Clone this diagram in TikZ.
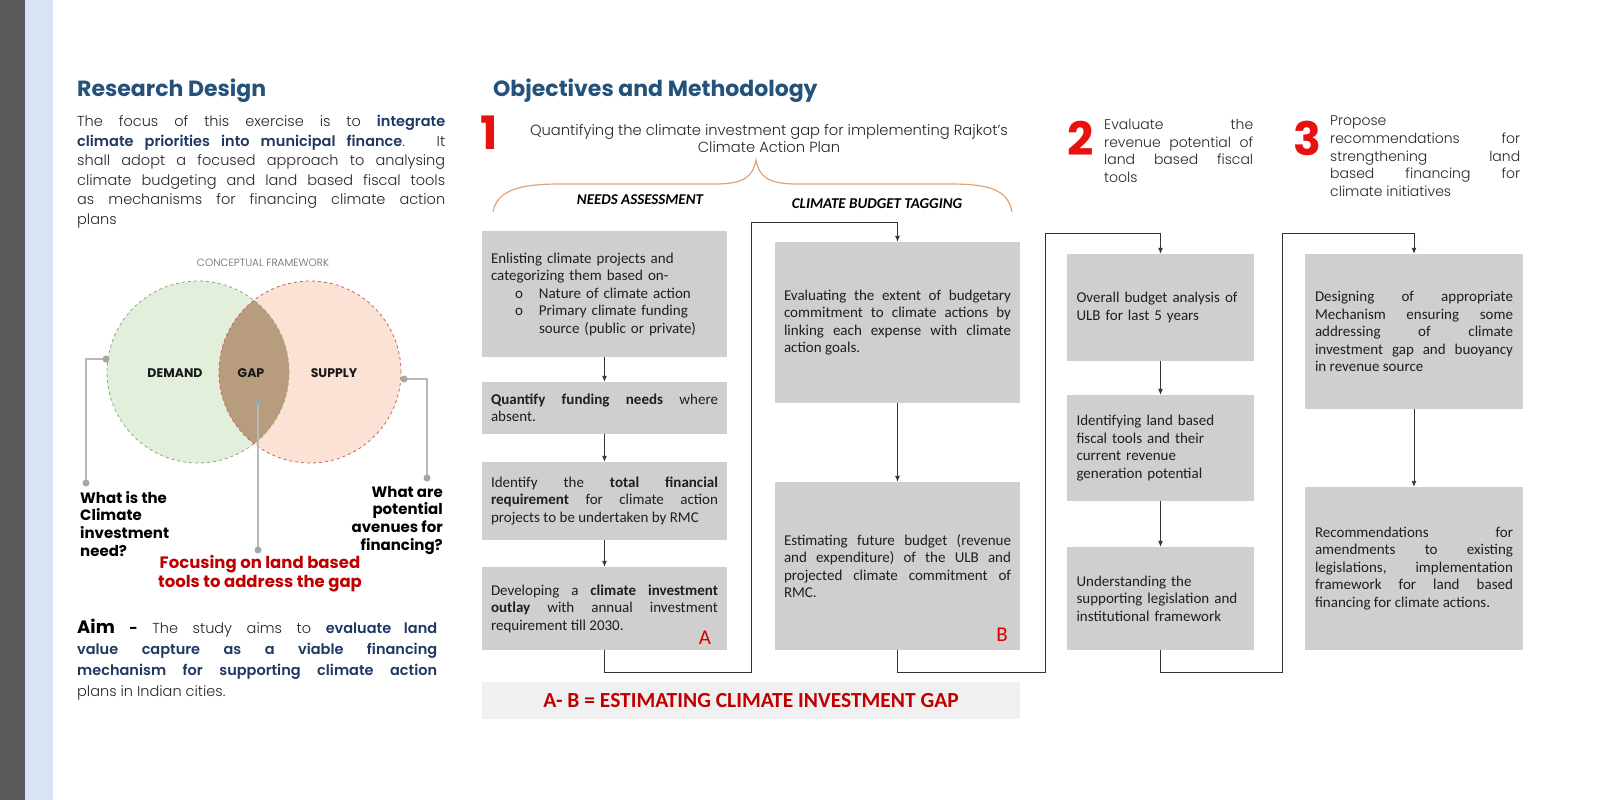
\documentclass[tikz,border=0pt]{standalone}
\usepackage{fontspec}
\IfFontExistsTF{Poppins Light}{\setmainfont{Poppins Light}[BoldFont={Poppins Bold}]}{\setmainfont{Poppins}}
\IfFontExistsTF{Poppins SemiBold}{\newfontfamily\keyfont{Poppins SemiBold}}{\newcommand{\keyfont}{\bfseries}}
\newfontfamily\boxfont{Carlito}
\usetikzlibrary{arrows.meta}
\definecolor{headblue}{HTML}{24527A}
\definecolor{navy}{HTML}{1F3864}
\definecolor{boxgray}{HTML}{D0CECE}
\definecolor{numred}{HTML}{E8110F}
\definecolor{darkred}{HTML}{C00000}
\definecolor{bracecol}{HTML}{E5A272}
\definecolor{demandfill}{HTML}{E2EFDA}
\definecolor{demandline}{HTML}{86AE72}
\definecolor{supplyfill}{HTML}{FBE2D5}
\definecolor{supplyline}{HTML}{C8625A}
\definecolor{gapfill}{HTML}{B79C7E}
\definecolor{sidebar}{HTML}{595959}
\definecolor{sideblue}{HTML}{DAE3F3}
\newcommand{\keyword}[1]{{\keyfont\color{navy}#1}}

\begin{document}
\begin{tikzpicture}[x=1pt,y=-1pt,
    stepbox/.style={fill=boxgray,inner xsep=9pt,inner ysep=0pt,align=justify,text=black!88,font=\boxfont\fontsize{15}{17.5}\selectfont},
    flow/.style={draw=black!80,line width=0.9pt,-{Latex[length=6pt,width=5pt]}},
    pinline/.style={draw=black!28,line width=1.1pt},
    pindot/.style={fill=black!35},
    bodytext/.style={inner sep=0pt,align=justify,text=black!85,font=\fontsize{14.5}{19.5}\selectfont},
    smalltext/.style={inner sep=0pt,align=justify,text=black!85,font=\fontsize{14}{17.6}\selectfont},
    question/.style={inner sep=0pt,text=black,font=\bfseries\fontsize{15}{17.6}\selectfont},
    bignum/.style={inner sep=0pt,anchor=base west,text=numred,font=\bfseries\fontsize{46}{46}\selectfont},
    heading/.style={inner sep=0pt,anchor=base west,text=headblue,font=\bfseries\fontsize{22}{26}\selectfont},
    phase/.style={inner sep=0pt,anchor=base,text=black,font=\boxfont\bfseries\itshape\fontsize{15}{17}\selectfont},
    venntext/.style={inner sep=0pt,anchor=base,text=black!90,font=\bfseries\fontsize{12.5}{14}\selectfont},
    partlabel/.style={inner sep=0pt,text=red!85!black,font=\boxfont\fontsize{21}{21}\selectfont}]
\useasboundingbox (0,0) rectangle (1600,800);
\fill[white] (0,0) rectangle (1600,800);
\fill[sidebar] (0,0) rectangle (25,800);
\fill[sideblue] (25,0) rectangle (53,800);

\node[heading] (designtitle) at (77,96) {Research Design};
\node[bodytext,anchor=north west,text width=368pt] (designtext) at (77,115) {The focus of this exercise is to \keyword{integrate}\linebreak \keyword{climate priorities into municipal finance}. It\linebreak shall adopt a focused approach to analysing\linebreak climate budgeting and land based fiscal tools\linebreak as mechanisms for financing climate action\linebreak plans};

\node[inner sep=0pt,anchor=base,text=black!60,font=\fontsize{10.5}{12}\selectfont] (frametitle) at (263,266) {CONCEPTUAL FRAMEWORK};
\fill[demandfill] (198,372) circle[radius=91pt];
\fill[supplyfill] (310,372) circle[radius=91pt];
\begin{scope}
  \clip (198,372) circle[radius=91pt];
  \fill[gapfill] (310,372) circle[radius=91pt];
\end{scope}
\draw[demandline,dashed,line width=0.8pt] (198,372) circle[radius=91pt];
\draw[supplyline,dashed,line width=0.8pt] (310,372) circle[radius=91pt];
\node[venntext] (demand) at (175,377) {DEMAND};
\node[venntext] (gap) at (251,377) {GAP};
\node[venntext] (supply) at (334,377) {SUPPLY};

\coordinate (demandpin) at (106,359);
\coordinate (demandend) at (86,483);
\coordinate (supplypin) at (404,379);
\coordinate (supplyend) at (427,478);
\coordinate (gappin) at (258,402);
\coordinate (gapend) at (258,550);
\draw[pinline] (demandpin) -| (demandend);
\draw[pinline] (supplypin) -| (supplyend);
\draw[pinline] (gappin) -- (gapend);
\fill[pindot] (demandpin) circle[radius=3.5pt] (demandend) circle[radius=3.5pt];
\fill[pindot] (supplypin) circle[radius=3.5pt] (supplyend) circle[radius=3.5pt];
\fill[pindot] (gappin) circle[radius=3.5pt] (gapend) circle[radius=3.5pt];

\node[question,anchor=north west,align=left] (needq) at (80,491) {What is the\\Climate\\investment\\need?};
\node[question,anchor=north east,align=right] (avenueq) at (443,486) {What are\\potential\\avenues for\\financing?};
\node[inner sep=0pt,anchor=north,align=center,text=darkred,font=\bfseries\fontsize{16.5}{19.3}\selectfont] (focusnote) at (260,555) {Focusing on land based\\tools to address the gap};

\node[bodytext,anchor=north west,text width=360pt,font=\fontsize{14.5}{21}\selectfont] (aimtext) at (77,619) {{\color{black}\bfseries\fontsize{18}{21}\selectfont Aim}\hspace{1em}{\color{black}\bfseries -} The study aims to \keyword{evaluate land}\linebreak \keyword{value capture as a viable financing}\linebreak \keyword{mechanism for supporting climate action}\linebreak plans in Indian cities.};

\node[heading] (objtitle) at (493,96) {Objectives and Methodology};
\node[bignum] (numone) at (480,149) {1};
\node[inner sep=0pt,anchor=north,align=center,text=black!85,font=\fontsize{14.7}{17.5}\selectfont] (objone) at (769,124) {Quantifying the climate investment gap for implementing Rajkot's\\Climate Action Plan};
\node[bignum] (numtwo) at (1067,155) {2};
\node[smalltext,anchor=north west,text width=149pt] (objtwo) at (1104,119) {Evaluate the\linebreak revenue potential of\linebreak land based fiscal\linebreak tools};
\node[bignum] (numthree) at (1293,155) {3};
\node[smalltext,anchor=north west,text width=190pt] (objthree) at (1330,116) {Propose\\recommendations for\linebreak strengthening land\linebreak based financing for\linebreak climate initiatives};

\draw[bracecol,line width=1.2pt] (493,212) .. controls (497,190) and (520,184) .. (560,184) -- (715,184) .. controls (745,184) and (753,176) .. (756,160) .. controls (759,176) and (767,184) .. (797,184) -- (950,184) .. controls (990,184) and (1008,190) .. (1012,212);
\node[phase] (needs) at (640,204) {NEEDS ASSESSMENT};
\node[phase] (tagging) at (877,208) {CLIMATE BUDGET TAGGING};

\node[stepbox,align=left,text width=227pt,minimum height=126pt] (a1) at (604.5,294) {Enlisting climate projects and\\categorizing them based on-\\\hspace*{24pt}\makebox[24pt][l]{o}Nature of climate action\\\hspace*{24pt}\makebox[24pt][l]{o}Primary climate funding\\\hspace*{48pt}source (public or private)};
\node[stepbox,text width=227pt,minimum height=52pt] (a2) at (604.5,408) {\textbf{Quantify funding needs} where\linebreak absent.};
\node[stepbox,text width=227pt,minimum height=78pt] (a3) at (604.5,501) {Identify the \textbf{total financial}\linebreak \textbf{requirement} for climate action\linebreak projects to be undertaken by RMC};
\node[stepbox,text width=227pt,minimum height=83pt] (a4) at (604.5,608.5) {Developing a \textbf{climate investment}\linebreak \textbf{outlay} with annual investment\linebreak requirement till 2030.};
\node[partlabel] (labela) at (705,638) {A};

\node[stepbox,text width=227pt,minimum height=161pt] (b1) at (897.5,322.5) {Evaluating the extent of budgetary\linebreak commitment to climate actions by\linebreak linking each expense with climate\linebreak action goals.};
\node[stepbox,text width=227pt,minimum height=168pt] (b2) at (897.5,566) {Estimating future budget (revenue\linebreak and expenditure) of the ULB and\linebreak projected climate commitment of\linebreak RMC.};
\node[partlabel] (labelb) at (1002,635) {B};

\node[stepbox,align=left,inner xsep=9.5pt,text width=168pt,minimum height=107pt] (c1) at (1160.5,307.5) {Overall budget analysis of\\ULB for last 5 years};
\node[stepbox,align=left,inner xsep=9.5pt,text width=168pt,minimum height=106pt] (c2) at (1160.5,448) {Identifying land based\\fiscal tools and their\\current revenue\\generation potential};
\node[stepbox,align=left,inner xsep=9.5pt,text width=168pt,minimum height=103pt] (c3) at (1160.5,598.5) {Understanding the\\supporting legislation and\\institutional framework};

\node[stepbox,inner xsep=10pt,text width=198pt,minimum height=155pt] (d1) at (1414,331.5) {Designing of appropriate\linebreak Mechanism ensuring some\linebreak addressing of climate\linebreak investment gap and buoyancy\linebreak in revenue source};
\node[stepbox,inner xsep=10pt,text width=198pt,minimum height=163pt] (d2) at (1414,568.5) {Recommendations for\linebreak amendments to existing\linebreak legislations, implementation\linebreak framework for land based\linebreak financing for climate actions.};

\node[fill=black!6,minimum width=538pt,minimum height=37pt,inner sep=0pt,text=darkred,font=\boxfont\bfseries\fontsize{21.5}{21.5}\selectfont] (gapbanner) at (751,700.5) {A- B = ESTIMATING CLIMATE INVESTMENT GAP};

\draw[flow] (a1) -- (a2);
\draw[flow] (a2) -- (a3);
\draw[flow] (a3) -- (a4);
\draw[flow] (b1) -- (b2);
\draw[flow] (c1) -- (c2);
\draw[flow] (c2) -- (c3);
\draw[flow] (d1) -- (d2);

\coordinate (ablow) at (751,672);
\coordinate (abhigh) at (751,222);
\coordinate (bclow) at (1045,672);
\coordinate (bchigh) at (1045,233);
\coordinate (cdlow) at (1282,672);
\coordinate (cdhigh) at (1282,233);
\draw[flow] (a4.south) |- (ablow) -- (abhigh) -| (b1.north);
\draw[flow] (b2.south) |- (bclow) -- (bchigh) -| (c1.north);
\draw[flow] (c3.south) |- (cdlow) -- (cdhigh) -| (d1.north);
\end{tikzpicture}
\end{document}
